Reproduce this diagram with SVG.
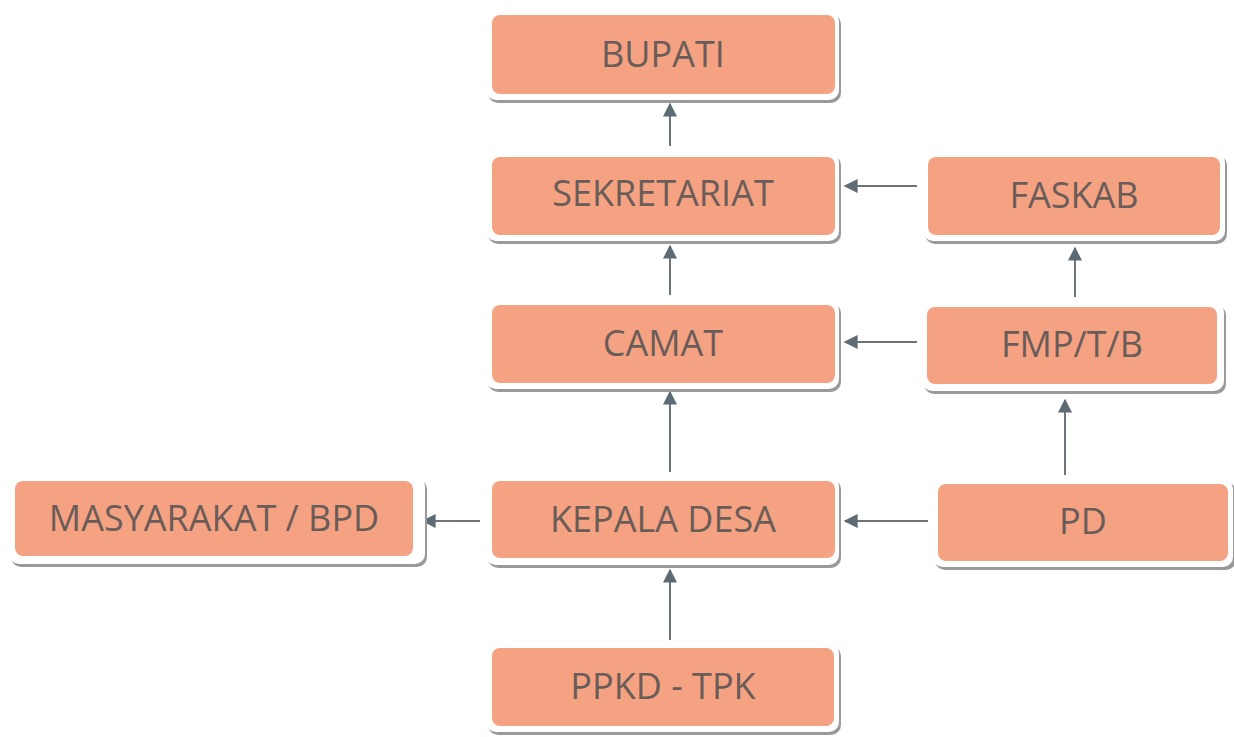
<svg xmlns="http://www.w3.org/2000/svg" width="1234" height="737" viewBox="0 0 1234 737">
<defs>
<style>
.sh{fill:#9a9a9a;}
.rim{fill:#ffffff;}
.box{fill:#F5A283;}
.lbl{font-family:"Open Sans","Noto Sans",sans-serif;font-size:36px;fill:#6a5c58;text-anchor:middle;dominant-baseline:central;}
.ln{stroke:#6b757b;stroke-width:2;fill:none;marker-end:url(#ah);}
</style>
<marker id="ah" viewBox="0 0 10 10" refX="9" refY="5" markerWidth="7" markerHeight="7" orient="auto" markerUnits="strokeWidth">
<path d="M0,0 L10,5 L0,10 z" fill="#5f6b73"/>
</marker>
</defs>
<rect width="1234" height="737" fill="#ffffff"/>
<g id="connectors">
<line class="ln" x1="670" y1="146" x2="670" y2="104"/>
<line class="ln" x1="670" y1="295" x2="670" y2="246"/>
<line class="ln" x1="670" y1="472" x2="670" y2="392"/>
<line class="ln" x1="670" y1="640" x2="670" y2="570"/>
<line class="ln" x1="917" y1="186" x2="845" y2="186"/>
<line class="ln" x1="917" y1="342" x2="845" y2="342"/>
<line class="ln" x1="928" y1="521" x2="845" y2="521"/>
<line class="ln" x1="480" y1="521" x2="423" y2="521"/>
<line class="ln" x1="1075" y1="297" x2="1075" y2="248"/>
<line class="ln" x1="1065" y1="475" x2="1065" y2="400"/>
</g>
<g id="bupati">
<rect class="sh" x="488" y="14" width="353" height="89" rx="10"/>
<rect class="rim" x="486" y="11" width="353" height="89" rx="10"/>
<rect class="box" x="492" y="15" width="343" height="79" rx="8"/>
<text class="lbl" x="663" y="53">BUPATI</text>
</g>
<g id="sekretariat">
<rect class="sh" x="488" y="155" width="353" height="89" rx="10"/>
<rect class="rim" x="486" y="152" width="353" height="89" rx="10"/>
<rect class="box" x="492" y="157" width="343" height="78" rx="8"/>
<text class="lbl" x="663" y="192">SEKRETARIAT</text>
</g>
<g id="faskab">
<rect class="sh" x="925" y="155" width="302" height="89" rx="10"/>
<rect class="rim" x="923" y="152" width="302" height="89" rx="10"/>
<rect class="box" x="928" y="157" width="292" height="78" rx="8"/>
<text class="lbl" x="1074" y="194">FASKAB</text>
</g>
<g id="camat">
<rect class="sh" x="488" y="303" width="353" height="89" rx="10"/>
<rect class="rim" x="486" y="300" width="353" height="89" rx="10"/>
<rect class="box" x="492" y="305" width="343" height="78" rx="8"/>
<text class="lbl" x="663" y="342">CAMAT</text>
</g>
<g id="fmp">
<rect class="sh" x="924" y="305" width="302" height="89" rx="10"/>
<rect class="rim" x="922" y="302" width="302" height="89" rx="10"/>
<rect class="box" x="927" y="307" width="290" height="77" rx="8"/>
<text class="lbl" x="1072" y="343">FMP/T/B</text>
</g>
<g id="masyarakat">
<rect class="sh" x="11" y="479" width="416" height="88" rx="10"/>
<rect class="rim" x="9" y="476" width="416" height="88" rx="10"/>
<rect class="box" x="15" y="481" width="398" height="75" rx="8"/>
<text class="lbl" x="214" y="517">MASYARAKAT / BPD</text>
</g>
<g id="kepala">
<rect class="sh" x="488" y="479" width="353" height="89" rx="10"/>
<rect class="rim" x="486" y="476" width="353" height="89" rx="10"/>
<rect class="box" x="492" y="481" width="343" height="77" rx="8"/>
<text class="lbl" x="663" y="518">KEPALA DESA</text>
</g>
<g id="pd">
<rect class="sh" x="935" y="482" width="301" height="88" rx="10"/>
<rect class="rim" x="933" y="479" width="300" height="88" rx="10"/>
<rect class="box" x="938" y="484" width="290" height="77" rx="8"/>
<text class="lbl" x="1083" y="520">PD</text>
</g>
<g id="ppkd">
<rect class="sh" x="488" y="646" width="353" height="89" rx="10"/>
<rect class="rim" x="486" y="643" width="353" height="89" rx="10"/>
<rect class="box" x="492" y="648" width="342" height="78" rx="8"/>
<text class="lbl" x="663" y="685">PPKD - TPK</text>
</g>
</svg>
